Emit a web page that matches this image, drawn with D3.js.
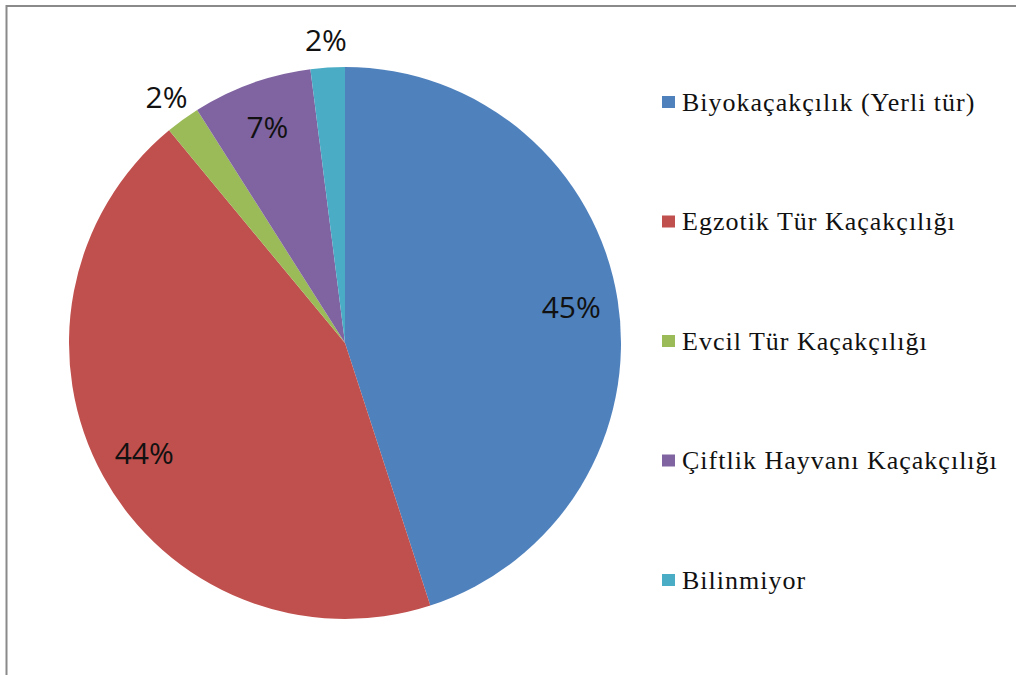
<!DOCTYPE html>
<html>
<head>
<meta charset="utf-8">
<script src="https://cdn.jsdelivr.net/npm/d3@7"></script>
<style>
  html, body { margin: 0; padding: 0; background: #fff; }
  svg { display: block; }
</style>
</head>
<body>
<svg id="chart" width="1016" height="675"></svg>
<script>
// Categories and their shares (percent)
const categories = [
  "Biyokaçakçılık (Yerli tür)",
  "Egzotik Tür Kaçakçılığı",
  "Evcil Tür Kaçakçılığı",
  "Çiftlik Hayvanı Kaçakçılığı",
  "Bilinmiyor"
];
const shares = [45, 44, 2, 7, 2];
const palette = ["#4F81BD", "#C0504D", "#9BBB59", "#8064A2", "#4BACC6"];

const svg = d3.select("#chart");

// Frame lines
svg.append("line").attr("x1", 6).attr("y1", 6).attr("x2", 1016).attr("y2", 6)
  .attr("stroke", "#8a8a8a").attr("stroke-width", 2);
svg.append("line").attr("x1", 6.5).attr("y1", 5).attr("x2", 6.5).attr("y2", 675)
  .attr("stroke", "#8a8a8a").attr("stroke-width", 2);

const cx = 345, cy = 343, r = 276;
const data = categories.map((c, i) => ({ name: c, value: shares[i], color: palette[i] }));

const pie = d3.pie().value(d => d.value).sort(null);
const arcs = pie(data);
const arc = d3.arc().innerRadius(0).outerRadius(r);

const g = svg.append("g").attr("transform", `translate(${cx},${cy})`);

g.selectAll("path.slice")
  .data(arcs)
  .join("path")
  .attr("class", "slice")
  .attr("d", arc)
  .attr("fill", d => d.data.color);

// Percentage labels: inside for large slices, just outside for thin ones
const inner = d3.arc().innerRadius(r * 0.83).outerRadius(r * 0.83);
const outer = d3.arc().innerRadius(r * 1.1).outerRadius(r * 1.1);
const pct = d3.format(".0%");

g.selectAll("text.pct")
  .data(arcs)
  .join("text")
  .attr("class", "pct")
  .attr("transform", d => {
    const p = (d.data.value < 5 ? outer : inner).centroid(d);
    return `translate(${p[0]},${p[1]})`;
  })
  .attr("text-anchor", "middle")
  .attr("dy", "0.36em")
  .attr("font-family", "'Open Sans', 'Liberation Sans', sans-serif")
  .attr("font-size", 30)
  .attr("fill", "#111")
  .text(d => pct(d.data.value / 100));

// Legend
const legendY = d3.scalePoint().domain(categories).range([102, 580]);
const legend = svg.append("g");
const items = legend.selectAll("g.item")
  .data(data)
  .join("g")
  .attr("class", "item")
  .attr("transform", d => `translate(662,${legendY(d.name)})`);

items.append("rect")
  .attr("x", 0).attr("y", -6)
  .attr("width", 13).attr("height", 12)
  .attr("fill", d => d.color);

items.append("text")
  .attr("x", 20)
  .attr("dy", "0.33em")
  .attr("font-family", "'Liberation Serif', 'Times New Roman', 'DejaVu Serif', serif")
  .attr("font-size", 26)
  .attr("letter-spacing", 1)
  .attr("fill", "#111")
  .text(d => d.name);
</script>
</body>
</html>
